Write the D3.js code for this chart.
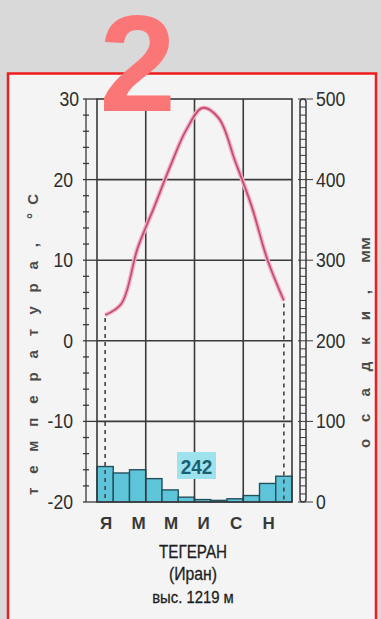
<!DOCTYPE html>
<html><head><meta charset="utf-8">
<script src="https://cdn.jsdelivr.net/npm/d3@7"></script>
<style>
html,body{margin:0;padding:0;background:#d9d9d9;}
svg{display:block;font-family:"Liberation Sans",Arial,sans-serif;}
</style></head>
<body>
<script>
// ---- data ----
const months = ["Я","Ф","М","А","М","И","И","А","С","О","Н","Д"];
const monthLabelIdx = [0,2,4,6,8,10];
const temperature = [3.2, 4.6, 11.5, 16.5, 21.6, 26.2, 28.9, 27.6, 22.3, 16.8, 10.0, 5.0];
const precipitation = [44, 36, 40, 29, 15, 6, 3, 2, 4, 8, 23, 32];
const annualPrecip = "242";
const tempTicks = [-20,-10,0,10,20,30];
const precipTicks = [0,100,200,300,400,500];
const station = ["ТЕГЕРАН","(Иран)","выс. 1219 м"];

const W=381,H=619;
const svg=d3.select("body").append("svg").attr("width",W).attr("height",H);

// frame
svg.append("rect").attr("x",0).attr("y",0).attr("width",W).attr("height",H).attr("fill","#d9d9d9");
svg.append("rect").attr("x",8).attr("y",73.5).attr("width",368).attr("height",600).attr("fill","#f4f4f4")
  .attr("stroke","#ee1c1c").attr("stroke-width",2.5);

const x=d3.scaleBand().domain(d3.range(12)).range([97,292]).padding(0);
const yT=d3.scaleLinear().domain([-20,30]).range([502,99]);
const yP=d3.scaleLinear().domain([0,500]).range([502,99]);
const ink="#3a3a3a";

// bars
svg.append("g").selectAll("rect").data(precipitation).join("rect")
  .attr("x",(d,i)=>x(i)).attr("y",d=>yP(d)).attr("width",x.bandwidth()).attr("height",d=>yP(0)-yP(d))
  .attr("fill","#5ec4d9").attr("stroke","#24505c").attr("stroke-width",1.4);

// grid
const g=svg.append("g").attr("stroke",ink).attr("stroke-width",1.6);
g.selectAll(".h").data(tempTicks.slice(1,-1)).join("line")
  .attr("x1",97).attr("x2",292).attr("y1",d=>yT(d)).attr("y2",d=>yT(d));
g.selectAll(".v").data([3,6,9]).join("line")
  .attr("x1",d=>x(d)).attr("x2",d=>x(d)).attr("y1",yT(30)).attr("y2",yT(-20));
svg.append("rect").attr("x",97).attr("y",yT(30)).attr("width",195).attr("height",yT(-20)-yT(30))
  .attr("fill","none").attr("stroke",ink).attr("stroke-width",1.6);

// left axis
const la=svg.append("g").attr("stroke",ink);
la.append("line").attr("x1",86).attr("x2",86).attr("y1",yT(30)).attr("y2",yT(-20)).attr("stroke-width",1.3);
la.selectAll(".mn").data(d3.range(-20,31,2)).join("line")
  .attr("x1",83).attr("x2",d=>d%10===0?97:89).attr("y1",d=>yT(d)).attr("y2",d=>yT(d)).attr("stroke-width",1.3);
svg.append("g").selectAll("text").data(tempTicks).join("text")
  .attr("transform",d=>`translate(${d===30?79:73},${yT(d)+7}) scale(0.84,1)`)
  .attr("text-anchor","end").attr("font-size",21).attr("fill","#2e2e2e").text(d=>d);

// right axis
const ra=svg.append("g").attr("stroke",ink);
ra.append("rect").attr("x",300).attr("y",yP(500)).attr("width",6).attr("height",yP(0)-yP(500))
  .attr("rx",3).attr("fill","none").attr("stroke-width",1.5);
ra.selectAll(".mn").data(d3.range(0,501,10)).join("line")
  .attr("x1",d=>d%100===0?298:300).attr("x2",d=>d%100===0?313:306)
  .attr("y1",d=>yP(d)).attr("y2",d=>yP(d)).attr("stroke-width",1);
svg.append("g").selectAll("text").data(precipTicks).join("text")
  .attr("transform",d=>`translate(316,${yP(d)+7}) scale(0.84,1)`)
  .attr("font-size",21).attr("fill","#2e2e2e").text(d=>d);

// dashed verticals
const dash=svg.append("g").attr("stroke","#444").attr("stroke-width",1.6).attr("stroke-dasharray","4,4");
[0,11].forEach(i=>{
  dash.append("line").attr("x1",x(i)+x.bandwidth()/2).attr("x2",x(i)+x.bandwidth()/2)
    .attr("y1",yT(temperature[i])+3).attr("y2",yP(0));
});

// temperature line
const line=d3.line().x((d,i)=>x(i)+x.bandwidth()/2).y(d=>yT(d)).curve(d3.curveCatmullRom.alpha(0.5));
svg.append("path").attr("d",line(temperature)).attr("fill","none").attr("stroke","#f3b3c5").attr("stroke-width",4.5);
svg.append("path").attr("d",line(temperature)).attr("fill","none").attr("stroke","#c24e72").attr("stroke-width",1.8);

// annual precipitation label
svg.append("rect").attr("x",177).attr("y",452).attr("width",39).attr("height",27).attr("fill","#9ee2ee");
svg.append("text").attr("transform","translate(196.5,474) scale(0.9,1)").attr("text-anchor","middle")
  .attr("font-size",21).attr("font-weight","bold").attr("fill","#1b5f72").text(annualPrecip);

// month labels
svg.append("g").selectAll("text").data(monthLabelIdx).join("text")
  .attr("x",i=>x(i)+x.bandwidth()/2+1).attr("y",529).attr("text-anchor","middle")
  .attr("font-size",17).attr("font-weight","bold").attr("fill","#383838").text(i=>months[i]);

// station text
[[558,0.8,19],[580,0.9,17.5],[603,0.9,16.5]].forEach((p,i)=>{
  svg.append("text").attr("transform",`translate(193,${p[0]}) scale(${p[1]},1)`)
    .attr("text-anchor","middle").attr("font-size",p[2]).attr("fill","#1e1e1e")
    .attr("stroke","#1e1e1e").attr("stroke-width",0.3).text(station[i]);
});

// axis titles
const title=(tx,ty,len,adj,txt)=>svg.append("text").attr("transform",`translate(${tx},${ty}) rotate(-90)`)
  .attr("font-size",15).attr("font-weight","bold").attr("fill","#4a4a4a")
  .attr("textLength",len).attr("lengthAdjust",adj).text(txt);
title(38,495,252,"spacing","температура,");
title(38,219,25,"spacing","°C");
title(370,448,158,"spacing","осадки,");
title(370,263,26,"spacingAndGlyphs","мм");

// big number
svg.append("text").attr("x",137.5).attr("y",111).attr("text-anchor","middle")
  .attr("font-size",138).attr("font-weight","bold").attr("fill","#fb7676").text("2");
</script>
</body></html>
